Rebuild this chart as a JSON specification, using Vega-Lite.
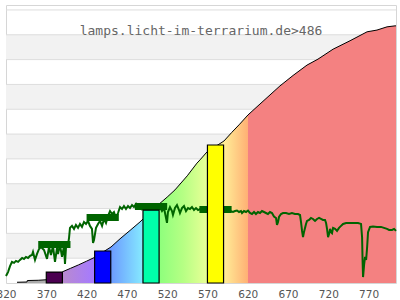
{
  "$schema": "https://vega.github.io/schema/vega-lite/v6.json",
  "width": 390,
  "height": 278,
  "autosize": {"type": "none"},
  "padding": {"left": 6, "top": 5, "right": 4, "bottom": 17},
  "background": "white",
  "config": {"view": {"stroke": "#d6d6d6", "strokeWidth": 1}},
  "datasets": {
    "bands": [
      {"nm": 320, "nm2": 804, "v": 10, "v2": 20},
      {"nm": 320, "nm2": 804, "v": 30, "v2": 40},
      {"nm": 320, "nm2": 804, "v": 50, "v2": 60},
      {"nm": 320, "nm2": 804, "v": 70, "v2": 80},
      {"nm": 320, "nm2": 804, "v": 90, "v2": 100}
    ],
    "grid": [
      {"v": 10}, {"v": 20}, {"v": 30}, {"v": 40}, {"v": 50}, {"v": 60},
      {"v": 70}, {"v": 80}, {"v": 90}, {"v": 100}, {"v": 110}
    ],
    "cumSpectral": [
      {"nm": 333.7, "v": 0.3}, {"nm": 346, "v": 0.4}, {"nm": 346.5, "v": 1.0},
      {"nm": 360, "v": 1.1}, {"nm": 370, "v": 1.3}, {"nm": 390, "v": 4.4},
      {"nm": 390.7, "v": 4.6}, {"nm": 400, "v": 5.9}, {"nm": 410, "v": 7.3},
      {"nm": 420, "v": 8.8}, {"nm": 429.2, "v": 10.2}, {"nm": 450.3, "v": 14.5},
      {"nm": 461.5, "v": 17.8}, {"nm": 474, "v": 21.2}, {"nm": 486.3, "v": 24.6},
      {"nm": 488.8, "v": 25.4}, {"nm": 508.6, "v": 31.4}, {"nm": 520, "v": 34.6},
      {"nm": 529.7, "v": 37.5}, {"nm": 545, "v": 43.2}, {"nm": 557, "v": 48.3},
      {"nm": 560.8, "v": 49.6}, {"nm": 569.4, "v": 52.8}, {"nm": 590.5, "v": 57.2},
      {"nm": 600, "v": 60.6}, {"nm": 610, "v": 64.0}, {"nm": 620.3, "v": 67.7}
    ],
    "cumRed": [
      {"nm": 620.3, "v": 67.7}, {"nm": 635.2, "v": 72.1}, {"nm": 660, "v": 79.4},
      {"nm": 676.2, "v": 83.6}, {"nm": 693.6, "v": 87.8}, {"nm": 707.2, "v": 90.2},
      {"nm": 725.9, "v": 94.2}, {"nm": 747, "v": 97.6}, {"nm": 768.1, "v": 101.2},
      {"nm": 780.4, "v": 101.9}, {"nm": 792.9, "v": 103.2}, {"nm": 802.8, "v": 103.6},
      {"nm": 804, "v": 103.6}
    ],
    "spectrum": [
      {"nm": 320, "v": 2.8}, {"nm": 322.5, "v": 4.4}, {"nm": 325, "v": 6.8}, {"nm": 327.4, "v": 8.5},
      {"nm": 330, "v": 8.1}, {"nm": 332.4, "v": 8.9}, {"nm": 335, "v": 8.5}, {"nm": 337.4, "v": 9.3},
      {"nm": 340, "v": 10.1}, {"nm": 342.3, "v": 9.7}, {"nm": 344.8, "v": 10.5}, {"nm": 347.3, "v": 10.1},
      {"nm": 349.8, "v": 10.9}, {"nm": 352.3, "v": 11.3}, {"nm": 353.5, "v": 12.5}, {"nm": 356, "v": 9.3},
      {"nm": 358.5, "v": 11.7}, {"nm": 361, "v": 13.7}, {"nm": 363.4, "v": 14.5}, {"nm": 367.2, "v": 13.3},
      {"nm": 370.9, "v": 9.7}, {"nm": 373.4, "v": 14.5}, {"nm": 375.8, "v": 11.3}, {"nm": 378.3, "v": 14.9},
      {"nm": 380.8, "v": 8.5}, {"nm": 383.3, "v": 14.1}, {"nm": 384.5, "v": 11.7}, {"nm": 387, "v": 15.3},
      {"nm": 389.5, "v": 10.5}, {"nm": 392, "v": 14.9}, {"nm": 393.2, "v": 7.7}, {"nm": 394.5, "v": 14.5},
      {"nm": 396.9, "v": 15.3}, {"nm": 398.2, "v": 18.1}, {"nm": 399.4, "v": 22.2}, {"nm": 401.9, "v": 23.0},
      {"nm": 404.4, "v": 21.8}, {"nm": 406.8, "v": 23.4}, {"nm": 409.4, "v": 22.2}, {"nm": 411.8, "v": 23.8},
      {"nm": 414.3, "v": 22.6}, {"nm": 416.8, "v": 24.6}, {"nm": 419.3, "v": 23.8}, {"nm": 421.8, "v": 25.0},
      {"nm": 424.2, "v": 23.0}, {"nm": 426.7, "v": 21.8}, {"nm": 428, "v": 16.1}, {"nm": 429.2, "v": 17.3},
      {"nm": 431.7, "v": 22.2}, {"nm": 434.2, "v": 23.8}, {"nm": 436.7, "v": 25.0}, {"nm": 439.2, "v": 23.0},
      {"nm": 441.6, "v": 25.8}, {"nm": 444.1, "v": 24.2}, {"nm": 446.6, "v": 27.0}, {"nm": 449.1, "v": 29.0},
      {"nm": 451.6, "v": 27.8}, {"nm": 454, "v": 28.6}, {"nm": 456.5, "v": 26.2}, {"nm": 459, "v": 28.2},
      {"nm": 461.5, "v": 30.6}, {"nm": 464, "v": 29.8}, {"nm": 466.4, "v": 31.0}, {"nm": 468.9, "v": 29.8},
      {"nm": 471.4, "v": 31.0}, {"nm": 473.9, "v": 30.2}, {"nm": 476.4, "v": 31.4}, {"nm": 478.8, "v": 30.6},
      {"nm": 481.3, "v": 31.8}, {"nm": 483.8, "v": 30.2}, {"nm": 486.3, "v": 31.4}, {"nm": 488.8, "v": 29.8},
      {"nm": 491.3, "v": 31.0}, {"nm": 493.7, "v": 29.4}, {"nm": 496.2, "v": 31.0}, {"nm": 498.7, "v": 29.8},
      {"nm": 501.2, "v": 31.4}, {"nm": 503.7, "v": 30.2}, {"nm": 506.1, "v": 31.0}, {"nm": 508.6, "v": 29.8},
      {"nm": 511.1, "v": 30.6}, {"nm": 513.6, "v": 29.0}, {"nm": 516.1, "v": 30.2}, {"nm": 518.6, "v": 26.2},
      {"nm": 519.8, "v": 24.2}, {"nm": 521, "v": 28.6}, {"nm": 523.5, "v": 30.6}, {"nm": 526, "v": 29.0},
      {"nm": 527.2, "v": 27.4}, {"nm": 529.7, "v": 30.2}, {"nm": 532.2, "v": 31.4}, {"nm": 534.7, "v": 29.4},
      {"nm": 535.9, "v": 28.2}, {"nm": 538.4, "v": 30.2}, {"nm": 540.9, "v": 31.0}, {"nm": 543.4, "v": 29.0},
      {"nm": 545.9, "v": 30.2}, {"nm": 548.3, "v": 29.8}, {"nm": 550.8, "v": 30.6}, {"nm": 553.3, "v": 29.4},
      {"nm": 555.8, "v": 30.2}, {"nm": 558.3, "v": 29.4}, {"nm": 560.8, "v": 29.8}, {"nm": 564.5, "v": 29.4},
      {"nm": 568.2, "v": 30.2}, {"nm": 573.2, "v": 29.8}, {"nm": 578.1, "v": 29.4}, {"nm": 583.1, "v": 30.2},
      {"nm": 588, "v": 29.4}, {"nm": 593, "v": 29.8}, {"nm": 598, "v": 29.0}, {"nm": 601.7, "v": 28.6},
      {"nm": 604.2, "v": 29.0}, {"nm": 606.7, "v": 29.2}, {"nm": 609.2, "v": 28.6}, {"nm": 611.6, "v": 29.0},
      {"nm": 612.9, "v": 28.2}, {"nm": 615.4, "v": 29.0}, {"nm": 617.9, "v": 28.6}, {"nm": 620.3, "v": 29.2},
      {"nm": 622.8, "v": 28.2}, {"nm": 625.3, "v": 27.8}, {"nm": 627.8, "v": 28.6}, {"nm": 630.2, "v": 27.8},
      {"nm": 632.7, "v": 28.6}, {"nm": 635.2, "v": 28.2}, {"nm": 637.7, "v": 29.0}, {"nm": 640.2, "v": 28.6},
      {"nm": 642.6, "v": 28.2}, {"nm": 645.1, "v": 27.8}, {"nm": 647.6, "v": 28.6}, {"nm": 650.1, "v": 28.2},
      {"nm": 652.6, "v": 26.8}, {"nm": 655.1, "v": 26.2}, {"nm": 656.3, "v": 23.4}, {"nm": 657.6, "v": 24.6},
      {"nm": 658.8, "v": 26.6}, {"nm": 661.3, "v": 27.8}, {"nm": 663.8, "v": 28.2}, {"nm": 667.5, "v": 28.2},
      {"nm": 671.2, "v": 27.8}, {"nm": 674.9, "v": 28.2}, {"nm": 678.6, "v": 27.8}, {"nm": 682.4, "v": 27.8},
      {"nm": 684.9, "v": 27.4}, {"nm": 686.1, "v": 24.6}, {"nm": 687.4, "v": 21.0}, {"nm": 688.6, "v": 18.5},
      {"nm": 689.8, "v": 20.5}, {"nm": 691.1, "v": 22.2}, {"nm": 692.3, "v": 23.8}, {"nm": 693.6, "v": 25.0},
      {"nm": 696.1, "v": 25.4}, {"nm": 698.5, "v": 26.2}, {"nm": 701, "v": 25.8}, {"nm": 703.5, "v": 25.0},
      {"nm": 706, "v": 25.8}, {"nm": 708.5, "v": 26.2}, {"nm": 710.9, "v": 25.8}, {"nm": 713.4, "v": 25.4},
      {"nm": 715.9, "v": 25.4}, {"nm": 717.2, "v": 24.2}, {"nm": 718.4, "v": 21.8}, {"nm": 719.7, "v": 18.5},
      {"nm": 720.9, "v": 19.7}, {"nm": 722.2, "v": 21.8}, {"nm": 723.4, "v": 20.5}, {"nm": 724.6, "v": 20.1},
      {"nm": 725.9, "v": 22.2}, {"nm": 728.4, "v": 21.8}, {"nm": 730.8, "v": 21.0}, {"nm": 733.3, "v": 22.2},
      {"nm": 735.8, "v": 23.0}, {"nm": 738.3, "v": 23.8}, {"nm": 742.1, "v": 24.2}, {"nm": 747, "v": 24.2},
      {"nm": 752, "v": 24.2}, {"nm": 756.9, "v": 24.2}, {"nm": 760.6, "v": 23.8}, {"nm": 761.9, "v": 18.5},
      {"nm": 762.5, "v": 9.3}, {"nm": 763.1, "v": 2.4}, {"nm": 764.4, "v": 7.3}, {"nm": 765.6, "v": 10.5},
      {"nm": 766.9, "v": 9.3}, {"nm": 768.1, "v": 14.1}, {"nm": 769.3, "v": 20.5}, {"nm": 771.8, "v": 22.6},
      {"nm": 775.5, "v": 22.8}, {"nm": 780.4, "v": 22.6}, {"nm": 785.4, "v": 22.6}, {"nm": 789.1, "v": 22.2},
      {"nm": 792.9, "v": 21.8}, {"nm": 795.4, "v": 21.4}, {"nm": 799.1, "v": 21.4}, {"nm": 801.6, "v": 21.8},
      {"nm": 804, "v": 21.0}
    ],
    "averages": [
      {"nm": 360, "nm2": 400, "v": 15.5},
      {"nm": 420, "nm2": 460, "v": 26.4},
      {"nm": 480, "nm2": 520, "v": 30.8},
      {"nm": 560, "nm2": 600, "v": 29.6}
    ],
    "bars": [
      {"band": "UV", "nm": 370, "nm2": 390, "v": 4.4},
      {"band": "blue", "nm": 430, "nm2": 450, "v": 12.9},
      {"band": "cyan", "nm": 490, "nm2": 510, "v": 29.4},
      {"band": "yellow", "nm": 570, "nm2": 590, "v": 55.6}
    ],
    "label": [
      {"nm": 562, "v": 100, "text": "lamps.licht-im-terrarium.de>486"}
    ]
  },
  "layer": [
    {
      "data": {"name": "bands"},
      "mark": {"type": "rect", "color": "#f2f2f2"},
      "encoding": {
        "x": {"field": "nm", "type": "quantitative", "scale": {"domain": [320, 804], "nice": false, "zero": false},
          "axis": {"values": [320, 370, 420, 470, 520, 570, 620, 670, 720, 770], "grid": false, "ticks": false, "domain": false,
            "labelFont": "DejaVu Sans", "labelFontSize": 10.5, "labelColor": "#555555", "labelPadding": 6,
            "labelFlush": false, "labelOverlap": false, "labelBound": false, "title": null}},
        "x2": {"field": "nm2"},
        "y": {"field": "v", "type": "quantitative", "scale": {"domain": [0, 112], "nice": false, "zero": false}, "axis": null},
        "y2": {"field": "v2"}
      }
    },
    {
      "data": {"name": "grid"},
      "mark": {"type": "rule", "color": "#dddddd", "strokeWidth": 1},
      "encoding": {
        "y": {"field": "v", "type": "quantitative", "scale": {"domain": [0, 112], "nice": false, "zero": false}, "axis": null}
      }
    },
    {
      "data": {"name": "cumSpectral"},
      "mark": {"type": "area", "interpolate": "linear",
        "color": {"gradient": "linear", "x1": 0, "x2": 1, "y1": 0, "y2": 0,
          "stops": [
            {"offset": 0, "color": "#a0a0a0"},
            {"offset": 0.127, "color": "#b0b0b0"},
            {"offset": 0.196, "color": "#b98ace"},
            {"offset": 0.3325, "color": "#a57aff"},
            {"offset": 0.406, "color": "#6c9aff"},
            {"offset": 0.538, "color": "#84e6ff"},
            {"offset": 0.612, "color": "#8cff7c"},
            {"offset": 0.72, "color": "#b6ff84"},
            {"offset": 0.821, "color": "#e8ff96"},
            {"offset": 0.898, "color": "#ffec96"},
            {"offset": 1, "color": "#ffb074"}
          ]}},
      "encoding": {
        "x": {"field": "nm", "type": "quantitative", "scale": {"domain": [320, 804], "nice": false, "zero": false}},
        "y": {"field": "v", "type": "quantitative", "scale": {"domain": [0, 112], "nice": false, "zero": false}}
      }
    },
    {
      "data": {"name": "cumRed"},
      "mark": {"type": "area", "color": "#f48181"},
      "encoding": {
        "x": {"field": "nm", "type": "quantitative"},
        "y": {"field": "v", "type": "quantitative"}
      }
    },
    {
      "data": {"name": "cumSpectral"},
      "mark": {"type": "line", "color": "#000000", "strokeWidth": 1},
      "encoding": {
        "x": {"field": "nm", "type": "quantitative"},
        "y": {"field": "v", "type": "quantitative"}
      }
    },
    {
      "data": {"name": "cumRed"},
      "mark": {"type": "line", "color": "#000000", "strokeWidth": 1},
      "encoding": {
        "x": {"field": "nm", "type": "quantitative"},
        "y": {"field": "v", "type": "quantitative"}
      }
    },
    {
      "data": {"name": "spectrum"},
      "mark": {"type": "line", "color": "#006400", "strokeWidth": 2},
      "encoding": {
        "x": {"field": "nm", "type": "quantitative"},
        "y": {"field": "v", "type": "quantitative"}
      }
    },
    {
      "data": {"name": "averages"},
      "mark": {"type": "rule", "color": "#006400", "strokeWidth": 7, "strokeCap": "butt"},
      "encoding": {
        "x": {"field": "nm", "type": "quantitative"},
        "x2": {"field": "nm2"},
        "y": {"field": "v", "type": "quantitative"}
      }
    },
    {
      "data": {"name": "bars"},
      "mark": {"type": "rect", "stroke": "#000000", "strokeWidth": 1.2, "opacity": 1},
      "encoding": {
        "x": {"field": "nm", "type": "quantitative"},
        "x2": {"field": "nm2"},
        "y": {"field": "v", "type": "quantitative"},
        "y2": {"datum": 0},
        "fill": {"field": "band", "type": "nominal", "legend": null,
          "scale": {"domain": ["UV", "blue", "cyan", "yellow"], "range": ["#4b0050", "#0000ff", "#00ffaa", "#ffff00"]}}
      }
    },
    {
      "data": {"name": "label"},
      "mark": {"type": "text", "font": "DejaVu Sans Mono", "fontSize": 13, "color": "#666666", "align": "center", "baseline": "alphabetic"},
      "encoding": {
        "x": {"field": "nm", "type": "quantitative"},
        "y": {"field": "v", "type": "quantitative"},
        "text": {"field": "text"}
      }
    }
  ]
}
